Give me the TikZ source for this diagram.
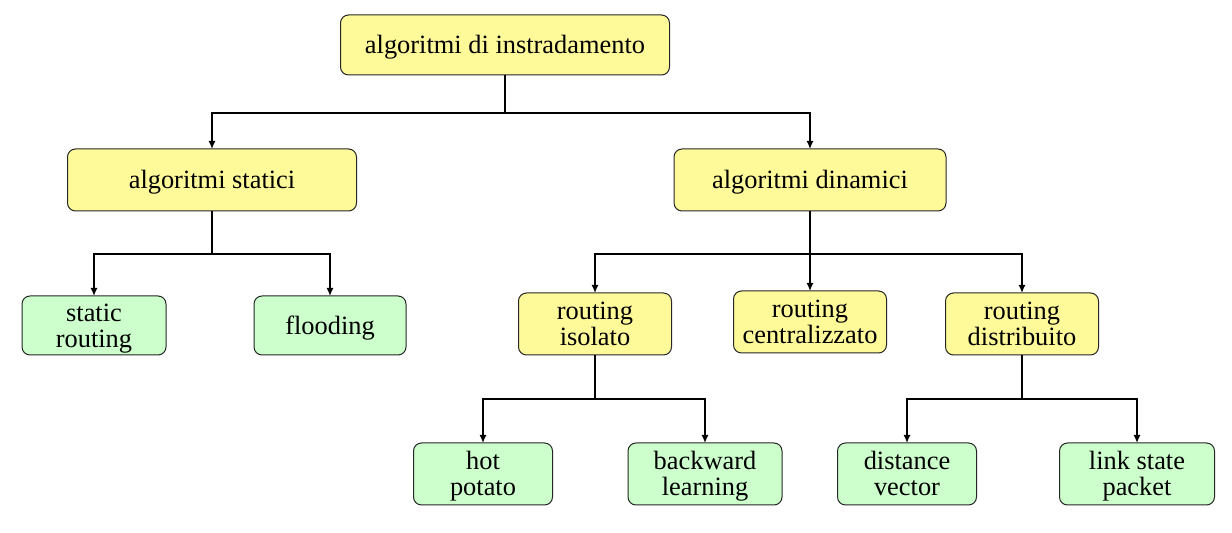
\documentclass[tikz,border=0pt]{standalone}
\usepackage{fontspec}
\setmainfont{Liberation Serif}
\usepackage{tikz}
\usetikzlibrary{arrows.meta}

% box labels, one or two lines, set a little low in the box
\newcommand{\BoxText}[1]{\raisebox{-1.75pt}[\height][\depth]{\begin{tabular}{@{}c@{}}#1\end{tabular}}}

\begin{document}
\begin{tikzpicture}[x=0.5pt,y=-0.5pt]
  \tikzset{BoxStyle/.style = {
    shape           = rectangle,
    rounded corners = 4pt,
    draw            = black!85,
    line width      = 0.5pt,
    text            = black,
    inner sep       = 0pt,
    outer sep       = 0pt,
    font            = \fontsize{13.2}{13}\selectfont
    }
  }
  \tikzset{YellowStyle/.style = {
    BoxStyle,
    fill          = yellow!40
    }
  }
  \tikzset{GreenStyle/.style = {
    BoxStyle,
    fill          = green!20
    }
  }
  \tikzset{LineStyle/.style = {
    draw          = black,
    line width    = 1pt
    }
  }
  \tikzset{EdgeStyle/.style = {
    LineStyle,
    -{Latex[length=4pt,width=3.6pt]}
    }
  }

  \useasboundingbox (0,0) rectangle (1232,533);

	\node[YellowStyle, minimum width=164.5pt, minimum height=30pt](A1) at (505, 45) {\BoxText{algoritmi di instradamento}};
	\node[YellowStyle, minimum width=144.5pt, minimum height=31pt](B1) at (212, 180) {\BoxText{algoritmi statici}};
	\node[YellowStyle, minimum width=136pt, minimum height=31pt](B2) at (810, 180) {\BoxText{algoritmi dinamici}};
	\node[GreenStyle, minimum width=72pt, minimum height=29.5pt](C1) at (94, 325.5) {\BoxText{static\\routing}};
	\node[GreenStyle, minimum width=76pt, minimum height=29.5pt](C2) at (330, 325.5) {\BoxText{flooding}};
	\node[YellowStyle, minimum width=76.5pt, minimum height=31pt](C3) at (595, 324) {\BoxText{routing\\isolato}};
	\node[YellowStyle, minimum width=76.5pt, minimum height=31pt](C4) at (810, 322) {\BoxText{routing\\centralizzato}};
	\node[YellowStyle, minimum width=76.5pt, minimum height=31pt](C5) at (1022, 324) {\BoxText{routing\\distribuito}};
	\node[GreenStyle, minimum width=69.5pt, minimum height=31pt](D1) at (483, 474) {\BoxText{hot\\potato}};
	\node[GreenStyle, minimum width=77pt, minimum height=31pt](D2) at (705, 474) {\BoxText{backward\\learning}};
	\node[GreenStyle, minimum width=69.5pt, minimum height=31pt](D3) at (907, 474) {\BoxText{distance\\vector}};
	\node[GreenStyle, minimum width=77.5pt, minimum height=31pt](D4) at (1137, 474) {\BoxText{link state\\packet}};

	% stems down to the branch points
	\draw[LineStyle](A1.south) -- ++(0, 38) coordinate (A1b);
	\draw[LineStyle](B1.south) -- ++(0, 43) coordinate (B1b);
	\draw[LineStyle](B2.south) -- ++(0, 43) coordinate (B2b);
	\draw[LineStyle](C3.south) -- ++(0, 44) coordinate (C3b);
	\draw[LineStyle](C5.south) -- ++(0, 44) coordinate (C5b);

	\draw[EdgeStyle](A1b) -| (B1.north);
	\draw[EdgeStyle](A1b) -| (B2.north);
	\draw[EdgeStyle](B1b) -| (C1.north);
	\draw[EdgeStyle](B1b) -| (C2.north);
	\draw[EdgeStyle](B2b) -| (C3.north);
	\draw[EdgeStyle](B2b) -- (C4.north);
	\draw[EdgeStyle](B2b) -| (C5.north);
	\draw[EdgeStyle](C3b) -| (D1.north);
	\draw[EdgeStyle](C3b) -| (D2.north);
	\draw[EdgeStyle](C5b) -| (D3.north);
	\draw[EdgeStyle](C5b) -| (D4.north);

\end{tikzpicture}
\end{document}
